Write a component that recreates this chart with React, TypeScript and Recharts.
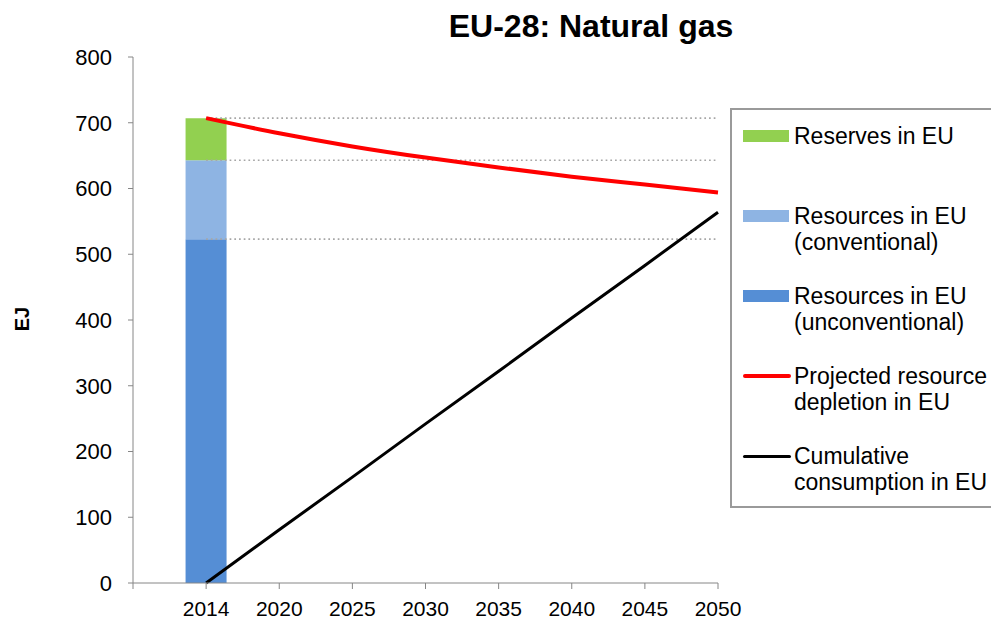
import { ComposedChart, Bar, Line, XAxis, YAxis } from 'recharts'

const YEARS = [2014, 2020, 2025, 2030, 2035, 2040, 2045, 2050]
const X_TICK_LABELS = ['', '2014', '2020', '2025', '2030', '2035', '2040', '2045', '2050']
const Y_TICKS = [0, 100, 200, 300, 400, 500, 600, 700, 800]

// stacked bar for 2014 (EJ)
const UNCONVENTIONAL = 523
const CONVENTIONAL = 120
const RESERVES = 64

const DEPLETION = [707, 684, 664, 647, 632, 618, 606, 594]
const CONSUMPTION = [0, 81, 161, 242, 322, 403, 483, 564]

const FONT = '"Liberation Sans", Arial, sans-serif'
const AXIS = '#868686'

const lvl1 = UNCONVENTIONAL
const lvl2 = UNCONVENTIONAL + CONVENTIONAL
const lvl3 = UNCONVENTIONAL + CONVENTIONAL + RESERVES
const last = YEARS.length - 1

const data = YEARS.map((year, i) => ({
  pos: i + 1,
  year,
  unconv: i === 0 ? UNCONVENTIONAL : undefined,
  conv: i === 0 ? CONVENTIONAL : undefined,
  reserves: i === 0 ? RESERVES : undefined,
  depletion: DEPLETION[i],
  consumption: CONSUMPTION[i],
  dot1: i === 0 || i === last ? lvl1 : undefined,
  dot2: i === 0 || i === last ? lvl2 : undefined,
  dot3: i === 0 || i === last ? lvl3 : undefined,
}))

const LEGEND = [
  { label: ['Reserves in EU'], color: '#92d050', kind: 'rect' },
  { label: ['Resources in EU', '(conventional)'], color: '#8eb4e3', kind: 'rect' },
  { label: ['Resources in EU', '(unconventional)'], color: '#558ed5', kind: 'rect' },
  { label: ['Projected resource', 'depletion in EU'], color: '#ff0000', kind: 'line' },
  { label: ['Cumulative', 'consumption in EU'], color: '#000000', kind: 'line' },
]

const yTickStyle = { fill: '#000', fontSize: 22, fontFamily: FONT }
const xTickStyle = { fill: '#000', fontSize: 21, fontFamily: FONT }

export default function App() {
  return (
    <div
      style={{
        position: 'absolute',
        left: 0,
        top: 0,
        width: 991,
        height: 621,
        overflow: 'hidden',
        background: '#fff',
        fontFamily: FONT,
      }}
    >
      <div
        style={{
          position: 'absolute',
          left: 391,
          top: 10,
          width: 400,
          textAlign: 'center',
          fontSize: 32,
          lineHeight: '32px',
          fontWeight: 'bold',
        }}
      >
        EU-28: Natural gas
      </div>
      <div
        style={{
          position: 'absolute',
          left: -28,
          top: 307,
          width: 100,
          height: 24,
          lineHeight: '24px',
          textAlign: 'center',
          fontSize: 20,
          fontWeight: 'bold',
          transform: 'rotate(-90deg)',
        }}
      >
        EJ
      </div>

      <ComposedChart
        width={991}
        height={621}
        data={data}
        margin={{ top: 57, right: 273, bottom: 0, left: 0 }}
      >
        <XAxis
          dataKey="pos"
          type="number"
          domain={[0, 8]}
          ticks={[0, 1, 2, 3, 4, 5, 6, 7, 8]}
          interval={0}
          tickFormatter={(v: number) => X_TICK_LABELS[v]}
          height={38}
          tickSize={6}
          tickMargin={12}
          stroke={AXIS}
          tick={xTickStyle}
        />
        <YAxis
          domain={[0, 800]}
          ticks={Y_TICKS}
          interval={0}
          width={133}
          tickSize={5}
          tickMargin={16}
          stroke={AXIS}
          tick={yTickStyle}
        />
        <Bar dataKey="unconv" stackId="a" fill="#558ed5" barSize={41} isAnimationActive={false} />
        <Bar dataKey="conv" stackId="a" fill="#8eb4e3" barSize={41} isAnimationActive={false} />
        <Bar dataKey="reserves" stackId="a" fill="#92d050" barSize={41} isAnimationActive={false} />
        {['dot1', 'dot2', 'dot3'].map((k) => (
          <Line
            key={k}
            dataKey={k}
            type="linear"
            stroke="#a6a6a6"
            strokeWidth={1.7}
            strokeDasharray="1.7 3"
            dot={false}
            connectNulls
            isAnimationActive={false}
          />
        ))}
        <Line
          dataKey="depletion"
          type="monotone"
          stroke="#ff0000"
          strokeWidth={4}
          dot={false}
          isAnimationActive={false}
        />
        <Line
          dataKey="consumption"
          type="linear"
          stroke="#000000"
          strokeWidth={3}
          dot={false}
          isAnimationActive={false}
        />
      </ComposedChart>

      {/* legend box, runs off the right edge like the original */}
      <div
        style={{
          position: 'absolute',
          left: 730,
          top: 108,
          width: 300,
          height: 400,
          border: '2px solid #9a9a9a',
          boxSizing: 'border-box',
          paddingTop: 13,
        }}
      >
        {LEGEND.map((item) => (
          <div key={item.label[0] + item.label.length} style={{ position: 'relative', height: 80 }}>
            <div
              style={{
                position: 'absolute',
                left: 11,
                top: item.kind === 'rect' ? 7 : item.color === '#ff0000' ? 11 : 11.5,
                width: item.kind === 'rect' ? 46 : 48,
                height: item.kind === 'rect' ? 12 : item.color === '#ff0000' ? 4 : 3,
                background: item.color,
                borderRadius: item.kind === 'line' ? 2 : 0,
              }}
            />
            <div
              style={{
                position: 'absolute',
                left: 62,
                top: 0,
                fontSize: 23,
                lineHeight: '26px',
                whiteSpace: 'nowrap',
              }}
            >
              {item.label.map((l) => (
                <div key={l}>{l}</div>
              ))}
            </div>
          </div>
        ))}
      </div>
    </div>
  )
}
